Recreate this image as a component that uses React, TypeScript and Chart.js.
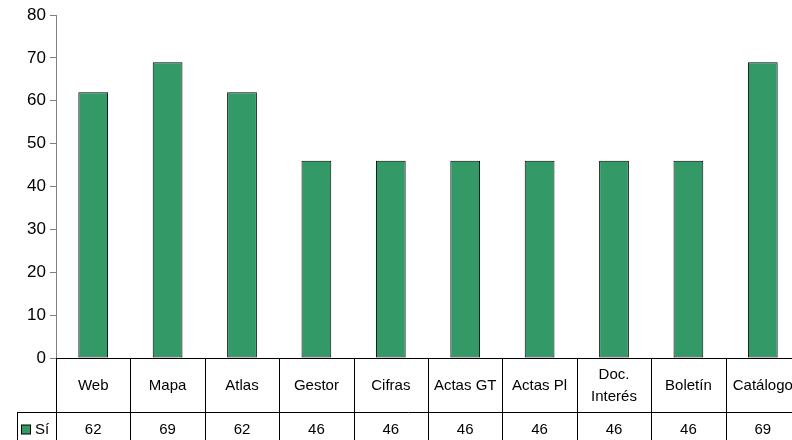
import React, { useEffect, useRef } from "react";
import { Chart, registerables } from "chart.js";

Chart.register(...registerables);

const categories: (string | string[])[] = [
  "Web", "Mapa", "Atlas", "Gestor", "Cifras", "Actas GT", "Actas Pl", ["Doc.", "Interés"], "Boletín", "Catálogo",
];
const seriesName = "Sí";
const siValues = [62, 69, 62, 46, 46, 46, 46, 46, 46, 69];
const yTicks = { min: 0, max: 80, step: 10 };

const BAR_COLOR = "#339966";
const FONT = "'Liberation Sans', Arial, sans-serif";

const tablePlugin = {
  id: "dataTable",
  afterDraw(chart: any) {
    const ctx = chart.ctx;
    const x = chart.scales.x;
    const area = chart.chartArea;
    const n = categories.length;
    const step = (area.right - area.left) / n;
    const top = area.bottom;
    const headerBottom = top + 54;
    const rowBottom = headerBottom + 34;
    const legendLeft = 17;
    ctx.save();
    ctx.strokeStyle = "#000";
    ctx.lineWidth = 1;
    ctx.beginPath();
    ctx.moveTo(area.left, top + 0.5);
    ctx.lineTo(area.right, top + 0.5);
    ctx.moveTo(legendLeft, headerBottom + 0.5);
    ctx.lineTo(area.right, headerBottom + 0.5);
    ctx.moveTo(legendLeft, rowBottom + 0.5);
    ctx.lineTo(area.right, rowBottom + 0.5);
    ctx.moveTo(legendLeft + 0.5, headerBottom);
    ctx.lineTo(legendLeft + 0.5, rowBottom);
    for (let i = 0; i <= n; i++) {
      const px = Math.round(area.left + i * step) + 0.5;
      ctx.moveTo(px, top);
      ctx.lineTo(px, rowBottom);
    }
    ctx.stroke();

    ctx.fillStyle = "#000";
    ctx.font = `15px ${FONT}`;
    ctx.textAlign = "center";
    ctx.textBaseline = "middle";
    const headerMid = (top + headerBottom) / 2 + 0.5;
    const rowMid = headerBottom + 17.5;
    categories.forEach((c, i) => {
      const cx = x.getPixelForValue(i);
      const lines = Array.isArray(c) ? c : [c];
      const lh = 22;
      const start = headerMid - ((lines.length - 1) * lh) / 2;
      lines.forEach((l, j) => ctx.fillText(l, cx, start + j * lh));
      ctx.fillText(String(siValues[i]), cx, rowMid);
    });
    // legend key
    ctx.fillStyle = BAR_COLOR;
    ctx.fillRect(21.5, rowMid - 4.5, 9, 9);
    ctx.strokeRect(21.5, rowMid - 4.5, 9, 9);
    ctx.fillStyle = "#000";
    ctx.textAlign = "left";
    ctx.fillText(seriesName, 35, rowMid);
    ctx.restore();
  },
};

export default function App() {
  const ref = useRef<HTMLCanvasElement>(null);
  useEffect(() => {
    if (!ref.current) return;
    const chart = new Chart(ref.current, {
      type: "bar",
      data: {
        labels: categories.map((c) => (Array.isArray(c) ? c.join(" ") : c)),
        datasets: [
          {
            label: seriesName,
            data: siValues,
            backgroundColor: BAR_COLOR,
            borderColor: "#000",
            borderWidth: 1,
            borderSkipped: false,
            barPercentage: 0.4,
            categoryPercentage: 1,
          },
        ],
      },
      options: {
        animation: false,
        responsive: false,
        devicePixelRatio: 1,
        layout: { padding: { left: 0, top: 15, right: 30, bottom: 102 } },
        plugins: { legend: { display: false }, tooltip: { enabled: false } },
        scales: {
          x: { display: false },
          y: {
            min: yTicks.min,
            max: yTicks.max,
            afterFit: (s: any) => {
              s.width = 56;
            },
            ticks: {
              stepSize: yTicks.step,
              color: "#000",
              font: { family: FONT, size: 17 },
              padding: 4,
            },
            grid: { drawOnChartArea: false, drawTicks: true, tickLength: 6, color: "#808080" },
            border: { display: true, color: "#808080" },
          },
        },
      },
      plugins: [tablePlugin],
    });
    return () => chart.destroy();
  }, []);
  return (
    <div style={{ position: "fixed", left: 0, top: 0, width: 792, height: 440, overflow: "hidden", background: "#fff" }}>
      <canvas ref={ref} width={830} height={460} style={{ display: "block" }} />
    </div>
  );
}
